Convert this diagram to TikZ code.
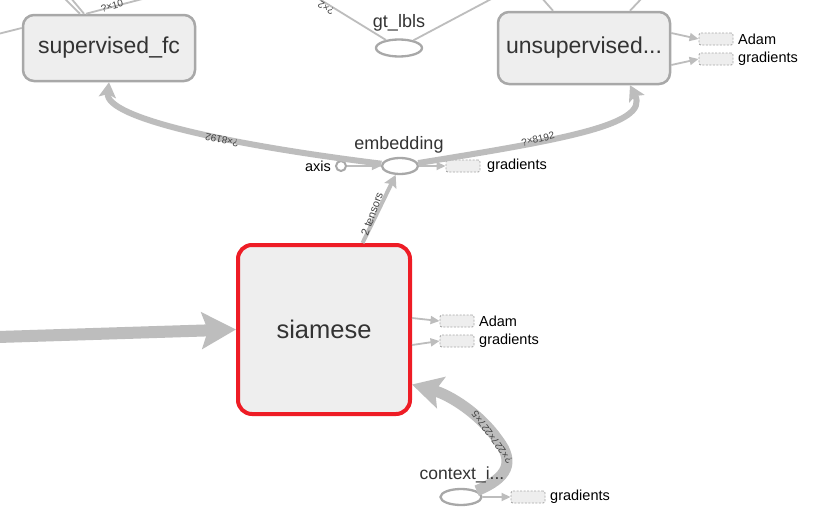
\documentclass[tikz,border=0pt]{standalone}
\usepackage{fontspec}
\setmainfont{Liberation Sans}
\usetikzlibrary{arrows.meta,shapes.geometric,calc}
\definecolor{edgegray}{HTML}{BDBDBD}
\definecolor{nodeborder}{HTML}{A8A8A8}
\definecolor{nodefill}{HTML}{EEEEEE}
\definecolor{txt}{HTML}{333333}
\definecolor{selred}{HTML}{EE1C25}
\definecolor{lbl}{HTML}{444444}
\tikzset{
 bignode/.style={draw=nodeborder, line width=2.5pt, fill=nodefill, rounded corners=11pt, text=txt, font=\fontsize{23}{27}\selectfont, inner sep=0pt},
 selnode/.style={bignode, draw=selred, line width=4pt, rounded corners=14pt, font=\fontsize{25.5}{29}\selectfont},
 opnode/.style={ellipse, draw=nodeborder, line width=2.3pt, fill=white, inner sep=0pt},
 constnode/.style={circle, draw=nodeborder, line width=2pt, fill=white, inner sep=0pt, minimum size=10pt},
 ghost/.style={draw=nodeborder, dash pattern=on 2pt off 1.5pt, line width=0.9pt, fill=nodefill, rounded corners=2pt, minimum width=34pt, minimum height=12pt, inner sep=0pt},
 opname/.style={text=txt, font=\fontsize{18}{20}\selectfont, inner sep=0pt},
 smalllabel/.style={text=black, font=\fontsize{14.5}{16}\selectfont, inner sep=0pt, anchor=west},
 edgelabel/.style={text=lbl, font=\fontsize{10}{11}\selectfont, inner sep=0pt},
 thinedge/.style={draw=edgegray, line width=1.8pt},
 thinarrow/.style={thinedge, -{Triangle[length=9pt,width=8pt]}},
 midedge/.style={draw=edgegray, line width=6pt, -{Stealth[length=15pt,width=17pt,inset=3pt]}},
 tensedge/.style={draw=edgegray, line width=4pt, -{Stealth[length=12pt,width=13pt,inset=2pt]}},
 fatedge/.style={draw=edgegray, line width=11pt, -{Stealth[length=30pt,width=32pt,inset=6pt]}},
 hugeedge/.style={draw=edgegray, line width=12pt, -{Stealth[length=34pt,width=36pt,inset=6pt]}}
}
\begin{document}
\begin{tikzpicture}[x=1pt,y=-1pt]
\useasboundingbox (0,0) rectangle (820,522);
\clip (0,0) rectangle (820,522);
\fill[white] (0,0) rectangle (820,522);

% main nodes
\node[bignode, minimum width=172pt, minimum height=66pt] (sup) at (109,48) {supervised\_fc};
\node[bignode, minimum width=172pt, minimum height=72pt] (unsup) at (584,48) {unsupervised...};
\node[selnode, minimum width=172pt, minimum height=169pt] (sia) at (324,329.5) {siamese};

% op nodes
\node[opnode, minimum width=46pt, minimum height=17pt] (gt) at (399,48) {};
\node[opname] (gtname) at (399,23) {gt\_lbls};
\node[opnode, minimum width=36pt, minimum height=16pt] (emb) at (400,166) {};
\node[opname] (embname) at (399,145) {embedding};
\node[constnode] (axis) at (341,166) {};
\node[smalllabel, anchor=east] (axisname) at (331,166) {axis};
\node[opnode, minimum width=41pt, minimum height=16pt] (ctx) at (461,497) {};

% ghost nodes
\node[ghost] (embg) at (463,166) {};
\node[smalllabel] (embgl) at (487,166) {gradients};
\node[ghost] (siaa) at (457,321) {};
\node[smalllabel] (siaal) at (479,321) {Adam};
\node[ghost] (siag) at (457,341) {};
\node[smalllabel] (siagl) at (479,341) {gradients};
\node[ghost] (unsa) at (716,39) {};
\node[smalllabel] (unsal) at (738,39) {Adam};
\node[ghost] (unsg) at (716,59) {};
\node[smalllabel] (unsgl) at (738,59) {gradients};
\node[ghost] (ctxg) at (528,497) {};
\node[smalllabel] (ctxgl) at (550,497) {gradients};

% free ends
\coordinate (lin) at (-2,337);
\coordinate (tl) at (-2,34);
\coordinate (ta) at (63,-3);
\coordinate (tb) at (70,-3);
\coordinate (tc) at (150,-3);
\coordinate (tg1) at (316,-3);
\coordinate (tg2) at (495,-3);
\coordinate (tu1) at (541,-3);
\coordinate (tu2) at (643,-3);

% top lines
\draw[thinedge] (tl) -- ($(sup.west)+(0,-20)$);
\draw[thinedge] (ta) -- ($(sup.north)+(-29,0)$);
\draw[thinedge] (tb) -- ($(sup.north)+(-25,0)$);
\draw[thinedge] (tc) -- ($(sup.north)+(-23,0)$);
\node[edgelabel, rotate=15] (l10) at (112,6) {?×10};
\draw[thinedge] (tg1) -- (gt);
\node[edgelabel, rotate=148] (l2) at (326,8) {?×2};
\draw[thinedge] (tg2) -- (gt);
\draw[thinedge] (tu1) -- ($(unsup.north)+(-31,0)$);
\draw[thinedge] (tu2) -- ($(unsup.north)+(46,0)$);

% main edges
\draw[hugeedge] (lin) -- (sia.west);
\draw[midedge] (emb) .. controls (230,145) and (105,118) .. (sup.south);
\node[edgelabel, rotate=168] (lsup) at (222,140) {?×8192};
\draw[midedge] (emb) .. controls (560,140) and (650,125) .. (unsup.-39);
\node[edgelabel, rotate=13] (lunsup) at (538,139) {?×8192};
\draw[tensedge] (sia.66) -- (emb);
\node[edgelabel, rotate=70, font=\fontsize{11}{12}\selectfont] (lten) at (372,214) {2 tensors};
\draw[fatedge] (ctx) .. controls (508,478) and (515,462) .. (498,440)
  .. controls (480,414) and (450,395) .. (sia.-32);
\node[edgelabel, rotate=126] (lctx) at (492,437) {?×227×227×5};
\node[opname, font=\fontsize{17.5}{20}\selectfont] (ctxname) at (462,475) {context\_i...};

% small edges
\draw[thinarrow] (axis) -- (emb);
\draw[thinarrow] (emb) -- (embg.west);
\draw[thinarrow] ($(sia.east)+(0,-11.5)$) -- (siaa.west);
\draw[thinarrow] ($(sia.east)+(0,15.5)$) -- (siag.west);
\draw[thinarrow] ($(unsup.east)+(0,-15)$) -- (unsa.west);
\draw[thinarrow] ($(unsup.east)+(0,17)$) -- (unsg.west);
\draw[thinarrow] (ctx) -- (ctxg.west);
\end{tikzpicture}
\end{document}
